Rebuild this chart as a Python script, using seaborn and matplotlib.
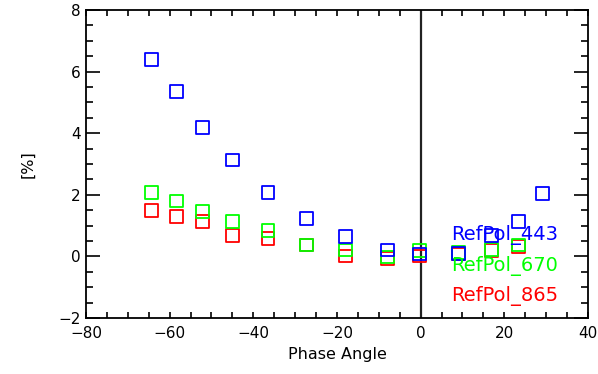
import numpy as np
import pandas as pd
import matplotlib
matplotlib.use("Agg")
import matplotlib.pyplot as plt
import seaborn as sns
from matplotlib.ticker import MultipleLocator

# Phase angle (deg) and reflectance polarization (%) for three bands
angle_443 = [-64.4, -58.4, -52.2, -44.9, -36.5, -27.2, -17.9, -8.0, -0.3, 9.1, 17.0, 23.4, 29.2]
pol_443 = [6.38, 5.35, 4.18, 3.13, 2.08, 1.24, 0.64, 0.21, 0.08, 0.10, 0.67, 1.13, 2.03]

angle_670 = [-64.4, -58.4, -52.2, -44.9, -36.5, -27.2, -17.9, -8.0, -0.3, 9.1, 17.0, 23.4]
pol_670 = [2.08, 1.80, 1.47, 1.13, 0.85, 0.37, 0.21, -0.02, 0.19, 0.12, 0.23, 0.37]

angle_865 = [-64.4, -58.4, -52.2, -44.9, -36.5, -27.2, -17.9, -8.0, -0.3, 9.1, 17.0, 23.4]
pol_865 = [1.48, 1.29, 1.13, 0.69, 0.59, 0.37, 0.01, -0.08, 0.01, 0.08, 0.20, 0.32]

series_names = ["RefPol_865", "RefPol_670", "RefPol_443"]
series_colors = {"RefPol_443": "#0000ff", "RefPol_670": "#00ff00", "RefPol_865": "#ff0000"}

df = pd.concat([
    pd.DataFrame({"angle": angle_865, "pol": pol_865, "band": "RefPol_865"}),
    pd.DataFrame({"angle": angle_670, "pol": pol_670, "band": "RefPol_670"}),
    pd.DataFrame({"angle": angle_443, "pol": pol_443, "band": "RefPol_443"}),
], ignore_index=True)

sns.set_theme(style="white")
plt.rcParams["font.family"] = ["DejaVu Sans"]
plt.rcParams["text.color"] = "black"
plt.rcParams["axes.labelcolor"] = "black"
plt.rcParams["xtick.color"] = "black"
plt.rcParams["ytick.color"] = "black"

fig = plt.figure(figsize=(5.98, 3.74), dpi=100)
ax = fig.add_axes([86 / 598, 1 - 318 / 374, (588 - 86) / 598, (318 - 10) / 374])

for name in series_names:
    sub = df[df["band"] == name]
    sns.scatterplot(data=sub, x="angle", y="pol", ax=ax, marker="s", s=85,
                    facecolor="none", edgecolor=series_colors[name],
                    linewidth=1.3, legend=False, zorder=3)

ax.axvline(0, color="#222222", lw=1.6, zorder=2)

ax.set_xlim(-80, 40)
ax.set_ylim(-2, 8)
ax.xaxis.set_major_locator(MultipleLocator(20))
ax.xaxis.set_minor_locator(MultipleLocator(5))
ax.yaxis.set_major_locator(MultipleLocator(2))
ax.yaxis.set_minor_locator(MultipleLocator(0.5))
ax.tick_params(axis="x", which="both", direction="in", top=True, bottom=True,
               length=4, width=1.2, color="black", labelcolor="black",
               labelsize=11, pad=6)
ax.tick_params(axis="y", which="major", direction="in", left=True, right=True,
               length=10, width=1.2, color="black", labelcolor="black",
               labelsize=11, pad=4)
ax.tick_params(axis="y", which="minor", direction="in", left=True, right=True,
               length=5, width=1.2, color="black")
for sp in ax.spines.values():
    sp.set_color("black")
    sp.set_linewidth(1.3)

ax.set_xlabel("Phase Angle", fontsize=11.5, labelpad=4, color="black")
ax.set_ylabel("[%]", fontsize=11.5, labelpad=16, color="black")

# band labels
label_y = {"RefPol_443": 0.69, "RefPol_670": -0.31, "RefPol_865": -1.29}
for name in ["RefPol_443", "RefPol_670", "RefPol_865"]:
    ax.text(7.3, label_y[name], name, color=series_colors[name], fontsize=14,
            ha="left", va="center", zorder=4)

fig.savefig("out.png", dpi=100, facecolor="white")
